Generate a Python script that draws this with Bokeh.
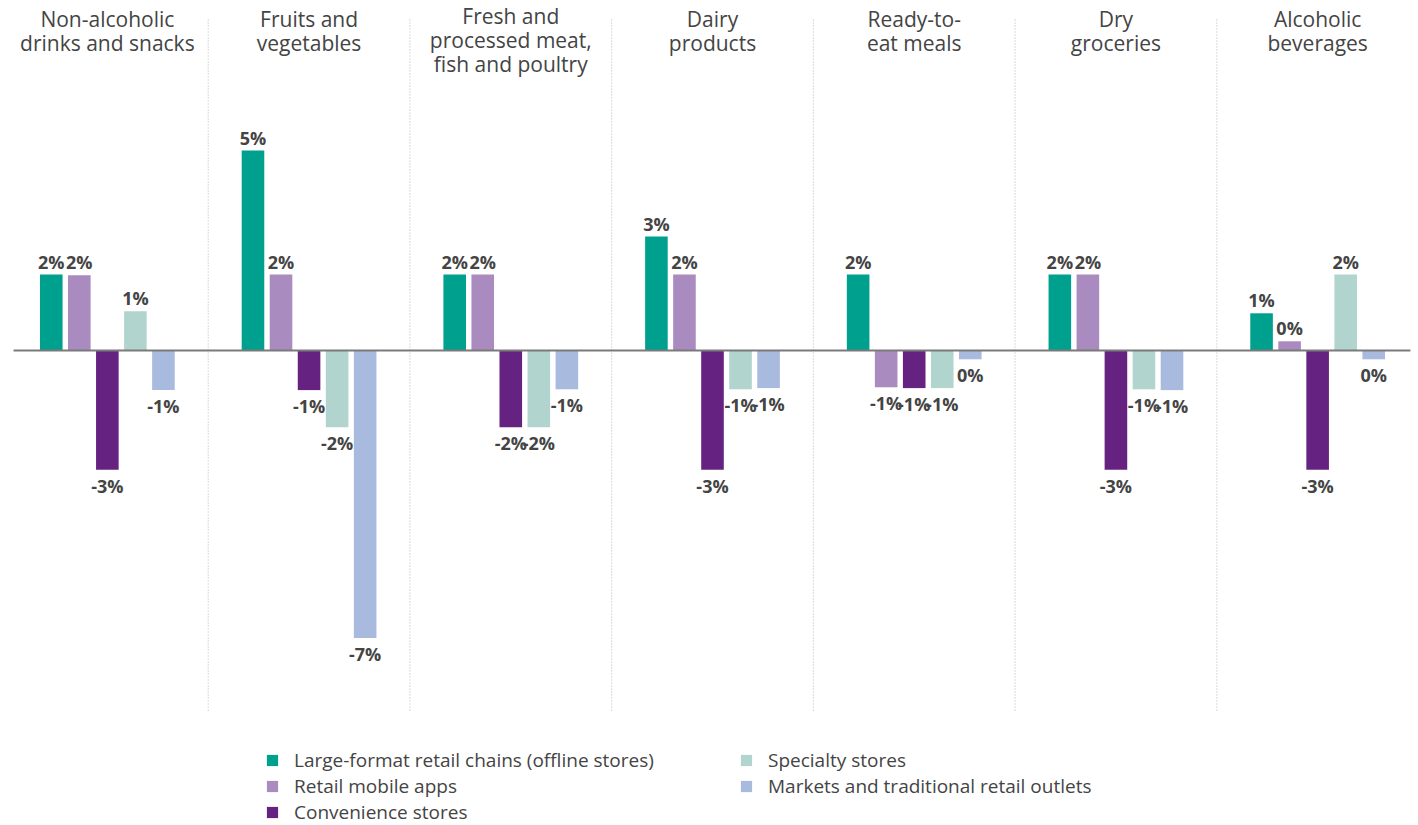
from bokeh.plotting import figure
from bokeh.models import ColumnDataSource, Range1d, Legend, LegendItem
from bokeh.core.properties import value
from bokeh.embed import file_html
from bokeh.resources import INLINE

# ---- data (percent change) ----
categories = [
    "Non-alcoholic\ndrinks and snacks",
    "Fruits and\nvegetables",
    "Fresh and\nprocessed meat,\nfish and poultry",
    "Dairy\nproducts",
    "Ready-to-\neat meals",
    "Dry\ngroceries",
    "Alcoholic\nbeverages",
]
series_names = [
    "Large-format retail chains (offline stores)",
    "Retail mobile apps",
    "Convenience stores",
    "Specialty stores",
    "Markets and traditional retail outlets",
]
large_format = [1.90, 5.00, 1.90, 2.85, 1.90, 1.90, 0.93]
mobile_apps = [1.88, 1.90, 1.90, 1.90, -0.92, 1.90, 0.23]
convenience = [-2.98, -0.99, -1.92, -2.98, -0.94, -2.98, -2.98]
specialty = [0.98, -1.92, -1.92, -0.97, -0.94, -0.97, 1.90]
markets = [-0.99, -7.19, -0.97, -0.94, -0.22, -0.99, -0.22]
series_values = [large_format, mobile_apps, convenience, specialty, markets]

colors = ["#00A08F", "#AA8BBF", "#662280", "#B1D5CE", "#A9BADF"]
FONT = "Open Sans"
TXT = "#444444"

W, H = 1418, 825
p = figure(width=W, height=H, output_backend="svg", toolbar_location=None,
           x_range=Range1d(-0.0297, 7), y_range=Range1d(-11.875, 8.75),
           x_axis_location=None, y_axis_location=None,
           min_border=0, min_border_left=0, min_border_right=0,
           min_border_top=0, min_border_bottom=0)
p.grid.visible = False
p.outline_line_color = None
p.background_fill_color = "white"

n = len(categories)
centers = [i + 0.5 for i in range(n)]
step = 0.139
bar_w = 0.112

# separators
p.segment(x0=list(range(1, n)), x1=list(range(1, n)),
          y0=[-9.0] * (n - 1), y1=[8.3] * (n - 1),
          line_color="#b5b5b5", line_width=1, line_dash="1 2")

renderers = []
pos_x, pos_y, pos_t, neg_x, neg_y, neg_t = [], [], [], [], [], []
for j, vals in enumerate(series_values):
    xs = [c + (j - 2) * step for c in centers]
    src = ColumnDataSource(dict(x=xs, top=vals))
    r = p.vbar(x="x", top="top", bottom=0, width=bar_w, source=src,
               fill_color=colors[j], line_color=None)
    renderers.append(r)
    for x, v in zip(xs, vals):
        t = f"{int(round(v))}%"
        if v >= 0:
            pos_x.append(x); pos_y.append(v); pos_t.append(t)
        else:
            neg_x.append(x); neg_y.append(v); neg_t.append(t)

# zero line
p.segment(x0=[0.035], x1=[6.96], y0=[0], y1=[0], line_color="#7a7a7a", line_width=2)

# value labels
p.text(x=pos_x, y=pos_y, text=pos_t, text_font=value(FONT), text_font_style="bold",
       text_font_size="18px", text_color=TXT, text_align="center",
       text_baseline="middle", y_offset=-13)
p.text(x=neg_x, y=neg_y, text=neg_t, text_font=value(FONT), text_font_style="bold",
       text_font_size="18px", text_color=TXT, text_align="center",
       text_baseline="middle", y_offset=16)

# category titles
title_src = ColumnDataSource(dict(
    x=centers, y=[8.65] * n, text=categories,
    yo=[-3 if c.count("\n") == 2 else 0 for c in categories]))
p.text(x="x", y="y", text="text", y_offset="yo", source=title_src,
       text_font=value(FONT), text_font_size="21px", text_color=TXT,
       text_align="center", text_baseline="top", text_line_height=0.86)

common = dict(orientation="vertical", padding=0, margin=0, spacing=0,
              glyph_width=14, glyph_height=14, label_standoff=15, label_height=26,
              label_text_font=FONT, label_text_font_size="19px",
              label_text_color=TXT, border_line_color=None,
              background_fill_alpha=0)
leg1 = Legend(items=[LegendItem(label=series_names[k], renderers=[renderers[k]]) for k in range(3)],
              location=(265, 0), **common)
leg2 = Legend(items=[LegendItem(label=series_names[k], renderers=[renderers[k]]) for k in range(3, 5)],
              location=(739, 26), **common)
p.add_layout(leg1)
p.add_layout(leg2)

open("out.html", "w").write(file_html(p, INLINE))
